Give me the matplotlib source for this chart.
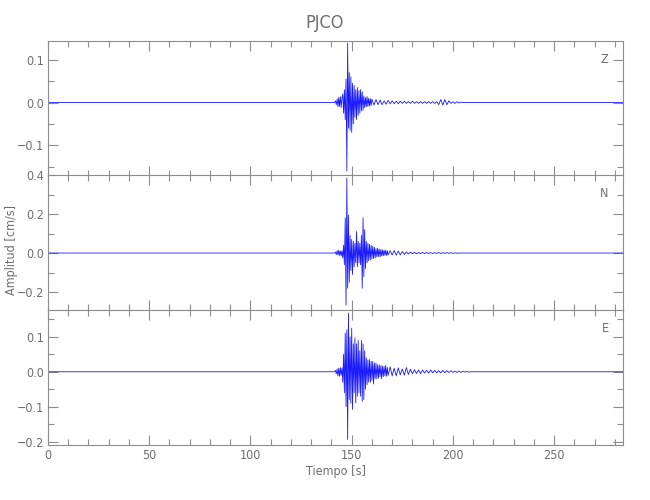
import numpy as np
import matplotlib
matplotlib.use("Agg")
import matplotlib.pyplot as plt
from matplotlib.ticker import MultipleLocator, AutoMinorLocator

plt.rcParams['font.family'] = ['DejaVu Sans']
plt.rcParams['font.stretch'] = 'condensed'

# trace data (amplitudes in cm/s)
components = ["Z", "N", "E"]
t_onset = 142.0      # first active sample [s]
dt_active = 0.4      # spacing of read peaks in the strong part
dt_tail = 1.0        # spacing of read peaks in the coda
t_end = 284.0

z_active = [0.004, -0.005, 0.008, -0.01, 0.012, -0.009, 0.014, -0.012, 0.01,
            0.02, -0.025, 0.03, -0.04, 0.055, -0.16, 0.139, -0.06, 0.07, -0.065, 0.06,
            -0.07, 0.045, -0.05, 0.04, -0.035, 0.03, -0.04, 0.035, -0.03, 0.028,
            -0.025, 0.03, -0.02, 0.025, -0.018, 0.015, -0.012, 0.012, -0.01, 0.014,
            -0.009, 0.01, -0.008, 0.009, -0.007, 0.008]
z_tail = [-0.006, 0.007, -0.005, 0.006, -0.005, 0.004, -0.004, 0.005, -0.003, 0.004,
          -0.003, 0.003, -0.003, 0.003, -0.002, 0.003, -0.002, 0.002, -0.002, 0.003,
          -0.002, 0.002, -0.002, 0.002, -0.002, 0.002, -0.002, 0.002, -0.002, 0.002,
          -0.002, 0.002, -0.005, 0.007, -0.006, 0.007, -0.005, 0.004, -0.002, 0.002,
          -0.002, 0.002, -0.001, 0.001]

n_active = [0.005, -0.008, 0.012, -0.01, 0.015, -0.012, 0.01, -0.015, 0.012,
            -0.025, 0.04, -0.06, 0.18, -0.267, 0.385, -0.18, 0.195, -0.15, 0.09, -0.09,
            0.07, -0.11, 0.06, -0.07, 0.05, -0.05, 0.11, -0.07, 0.06, -0.05,
            0.05, -0.06, 0.09, -0.18, 0.18, -0.12, 0.12, -0.08, 0.06, -0.05,
            0.05, -0.04, 0.045, -0.035, 0.04, -0.03, 0.035, -0.028, 0.03, -0.025,
            0.022, -0.02, 0.025, -0.018, 0.02, -0.02, 0.018, -0.015, 0.016, -0.014,
            0.015, -0.012, 0.014, -0.012, 0.012, -0.01]
n_tail = [0.012, -0.01, 0.013, -0.011, 0.01, -0.009, 0.008, -0.007,
          0.006, -0.005, 0.005, -0.004, 0.004, -0.004, 0.003, -0.003, 0.003, -0.003,
          0.003, -0.002, 0.002, -0.002, 0.002, -0.002, 0.002, -0.002, 0.002, -0.002,
          0.002, -0.002, 0.002, -0.002, 0.001, -0.001]

e_active = [0.004, -0.006, 0.008, -0.012, 0.01, -0.013, 0.012, -0.01, 0.011,
            -0.03, 0.05, -0.06, 0.11, -0.1, 0.12, -0.194, 0.168, -0.08, 0.1, -0.09,
            0.125, -0.108, 0.08, -0.06, 0.097, -0.089, 0.08, -0.07, 0.09, -0.06,
            0.06, -0.07, 0.09, -0.085, 0.08, -0.08, 0.06, -0.05, 0.04, -0.037,
            0.034, -0.03, 0.035, -0.03, 0.03, -0.025, 0.03, -0.035, 0.025, -0.02,
            0.025, -0.02, 0.02, -0.018, 0.02, -0.015, 0.018, -0.02, 0.016, -0.014,
            0.015, -0.012, 0.018, -0.013, 0.012, -0.01]
e_tail = [0.014, -0.012, 0.01, -0.012, 0.011, -0.009, 0.008, -0.01,
          0.012, -0.008, 0.007, -0.006, 0.006, -0.005, 0.005, -0.006, 0.005, -0.004,
          0.004, -0.004, 0.005, -0.003, 0.004, -0.003, 0.003, -0.003, 0.004, -0.003,
          0.003, -0.002, 0.003, -0.002, 0.002, -0.002, 0.002, -0.002, 0.002, -0.001,
          0.001, -0.001]

traces = {"Z": (z_active, z_tail), "N": (n_active, n_tail), "E": (e_active, e_tail)}
ylims = {"Z": (-0.172, 0.144), "N": (-0.292, 0.4), "E": (-0.21, 0.177)}
ymajor = {"Z": 0.1, "N": 0.2, "E": 0.1}

gray = "#8c8c8c"
textc = "#6e6e6e"

fig = plt.figure(figsize=(6.5, 5), dpi=100)
left, width, h = 48 / 650, 575 / 650, 0.27
bottoms = [0.648, 0.38, 0.11]

axes = []
for comp, b in zip(components, bottoms):
    ax = fig.add_axes([left, b, width, h])
    act, tail = traces[comp]
    t_act = t_onset + dt_active * np.arange(len(act))
    t_tail = t_act[-1] + dt_tail * np.arange(1, len(tail) + 1)
    # quiet record before the onset and after the coda
    t = np.concatenate([[0.0, t_onset - dt_active], t_act, t_tail,
                        [t_tail[-1] + dt_tail, t_end]])
    y = np.concatenate([[0.0, 0.0], act, tail, [0.0, 0.0]])
    ax.plot(t, y, color="#1a1aff", lw=0.6)
    ax.set_xlim(0, t_end)
    ax.set_ylim(*ylims[comp])
    ax.xaxis.set_major_locator(MultipleLocator(50))
    ax.xaxis.set_minor_locator(MultipleLocator(10))
    ax.yaxis.set_major_locator(MultipleLocator(ymajor[comp]))
    ax.yaxis.set_minor_locator(AutoMinorLocator(2))
    ax.tick_params(which="both", direction="in", top=True, right=True,
                   colors=gray, labelcolor=textc, labelsize=9, pad=3)
    ax.tick_params(which="major", length=7, width=0.8)
    ax.tick_params(which="minor", length=4, width=0.8)
    for s in ax.spines.values():
        s.set_color(gray)
    ax.text(0.975, 0.86, comp, transform=ax.transAxes, color=textc,
            fontsize=9, ha="right", va="center")
    if comp != "E":
        ax.tick_params(labelbottom=False)
    axes.append(ax)

fig.text(12 / 650, 0.5, "Amplitud [cm/s]", color=textc, fontsize=9,
         rotation=90, ha="center", va="center")
axes[2].set_xlabel("Tiempo [s]", color=textc, fontsize=9, labelpad=2)
fig.text(0.5, 0.955, "PJCO", color=textc, fontsize=13, ha="center", va="center")

fig.savefig("out.png", dpi=100)
